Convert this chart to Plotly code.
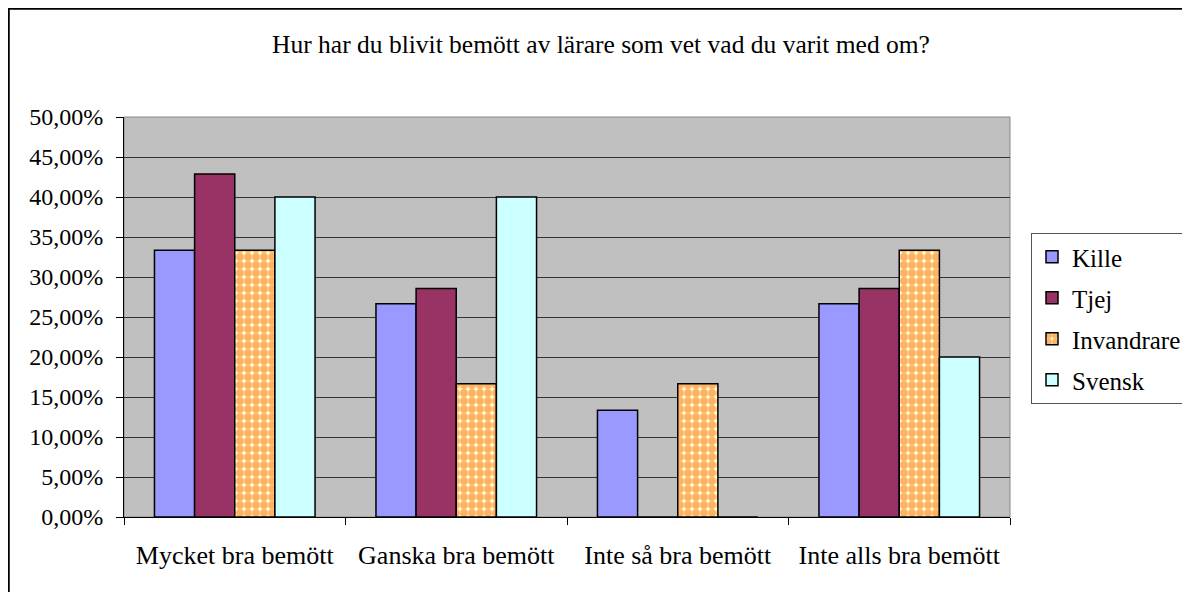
import plotly.graph_objects as go

categories = ["Mycket bra bemött", "Ganska bra bemött", "Inte så bra bemött", "Inte alls bra bemött"]
kille = [0.3333, 0.2667, 0.1333, 0.2667]
tjej = [0.4286, 0.2857, 0.0, 0.2857]
invandrare = [0.3333, 0.1667, 0.1667, 0.3333]
svensk = [0.40, 0.40, 0.0, 0.20]
y_ticks = [0, 0.05, 0.10, 0.15, 0.20, 0.25, 0.30, 0.35, 0.40, 0.45, 0.50]

FONT = "Liberation Serif"

W, H = 1190, 592
L, R, T, B = 116, 188, 109, 83
PW, PH = W - L - R, H - T - B

fig = go.Figure()
line = dict(color="black", width=1.5)
fig.add_trace(go.Bar(name="Kille", x=categories, y=kille, legendgroup="a",
                     marker=dict(color="#9999FF", line=line)))
fig.add_trace(go.Bar(name="Tjej", x=categories, y=tjej, legendgroup="b",
                     marker=dict(color="#993366", line=line)))
fig.add_trace(go.Bar(name="Invandrare", x=categories, y=invandrare, legendgroup="c",
                     marker=dict(color="#FFFFCC", line=line,
                                 pattern=dict(shape=".", fgcolor="#FF6600", bgcolor="#FFFFCC",
                                              size=8, solidity=0.75, fillmode="overlay"))))
fig.add_trace(go.Bar(name="Svensk", x=categories, y=svensk, legendgroup="d",
                     marker=dict(color="#CCFFFF", line=line)))

fig.update_layout(
    width=W, height=H,
    margin=dict(l=L, r=R, t=T, b=B, autoexpand=False),
    paper_bgcolor="white", plot_bgcolor="#C0C0C0",
    separators=", ",
    barmode="group", bargap=0.275, bargroupgap=0,
    font=dict(family=FONT, size=24, color="black"),
    title=dict(text="Hur har du blivit bemött av lärare som vet vad du varit med om?",
               x=593 / W, xanchor="center", y=1 - 36 / H, yanchor="middle",
               font=dict(family=FONT, size=25.5, color="black")),
    legend=dict(x=(1023 - L) / PW, xanchor="left", y=1 - (225 - T) / PH, yanchor="top",
                bgcolor="white", bordercolor="#555555", borderwidth=1,
                tracegroupgap=5.5, itemwidth=30, font=dict(family=FONT, size=25)),
    showlegend=True,
    shapes=[dict(type="rect", xref="paper", yref="paper",
                 x0=(0.5 - L) / PW, x1=(W + 50 - L) / PW,
                 y0=-(B + 50) / PH, y1=1 + (T - 0.5) / PH,
                 line=dict(color="black", width=2.5), fillcolor="rgba(0,0,0,0)", layer="above")],
)
fig.update_xaxes(showline=True, linecolor="black", linewidth=1, mirror=False,
                 ticks="outside", tickson="boundaries", ticklen=7, tickcolor="black",
                 ticklabelstandoff=15, automargin=False,
                 tickfont=dict(family=FONT, size=26))
fig.update_yaxes(range=[0, 0.5], tickvals=y_ticks, tickformat=".2%",
                 showgrid=True, gridcolor="#333333", gridwidth=1,
                 showline=True, linecolor="black", linewidth=1,
                 ticks="outside", ticklen=7, tickcolor="black",
                 ticklabelstandoff=8, automargin=False,
                 tickfont=dict(family=FONT, size=24), zeroline=False)
fig.add_shape(type="rect", xref="paper", yref="paper", x0=0, x1=1, y0=0, y1=1,
              line=dict(color="#888888", width=1), layer="below")

fig.write_html("out.html")
